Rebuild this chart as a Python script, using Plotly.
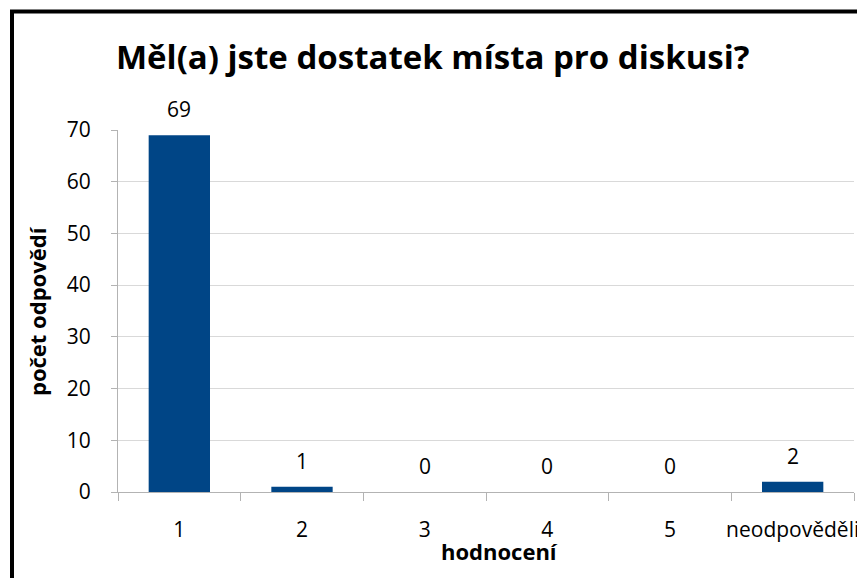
import plotly.graph_objects as go

categories = ["1", "2", "3", "4", "5", "neodpověděli"]
values = [69, 1, 0, 0, 0, 2]
title_text = "Měl(a) jste dostatek místa pro diskusi?"
x_title = "hodnocení"
y_title = "počet odpovědí"

FONT = "Open Sans"
OFF = 8  # default page body margin
W, H = 865, 578
L, T = 118 - OFF, 130 - OFF
R, B = W - (854 - OFF), H - (492 - OFF)
pw, ph = W - L - R, H - T - B


def px_x(x):  # page pixel -> paper fraction
    return (x - OFF - L) / pw


def px_y(y):
    return 1 - (y - OFF - T) / ph


fig = go.Figure()
fig.add_trace(go.Bar(x=categories, y=values, marker=dict(color="#004586", line=dict(width=0)),
                     width=0.5, hoverinfo="x+y"))

for i, v in enumerate(values):
    fig.add_annotation(x=i, y=v, text=str(v), showarrow=False, xanchor="center", yanchor="middle",
                       yshift=26, font=dict(family=FONT, size=21, color="black"))

fig.add_annotation(xref="paper", yref="paper", x=px_x(499), y=px_y(551), text="<b>" + x_title + "</b>",
                   xanchor="center", yanchor="middle",
                   showarrow=False, font=dict(family=FONT, size=22, color="black"))
fig.add_annotation(xref="paper", yref="paper", x=px_x(37), y=px_y(311), text="<b>" + y_title + "</b>",
                   xanchor="center", yanchor="middle",
                   showarrow=False, textangle=-90, font=dict(family=FONT, size=22, color="black"))
fig.add_annotation(xref="paper", yref="paper", x=px_x(433), y=px_y(57), text="<b>" + title_text + "</b>",
                   xanchor="center", yanchor="middle",
                   showarrow=False, font=dict(family=FONT, size=33, color="black"))

fig.add_shape(type="rect", xref="paper", yref="paper", x0=px_x(12), y0=px_y(640), x1=px_x(920), y1=px_y(11.5),
              line=dict(color="black", width=4), fillcolor="rgba(0,0,0,0)", layer="above")

fig.update_layout(
    width=W, height=H, margin=dict(l=L, r=R, t=T, b=B, pad=0, autoexpand=False),
    paper_bgcolor="white", plot_bgcolor="white", showlegend=False,
    font=dict(family=FONT, size=21, color="black"),
)
fig.update_xaxes(type="category", showline=True, linecolor="#b3b3b3", linewidth=1,
                 ticks="outside", tickson="boundaries", ticklen=8, tickcolor="#b3b3b3",
                 showgrid=False, tickangle=0, automargin=False, ticklabelstandoff=19,
                 ticklabeloverflow="allow",
                 tickfont=dict(family=FONT, size=21, color="black"))
fig.update_yaxes(range=[0, 70], dtick=10, showline=True, linecolor="#b3b3b3", linewidth=1,
                 ticks="outside", ticklen=6, tickcolor="#b3b3b3", gridcolor="#d9d9d9",
                 zeroline=False, automargin=False, ticklabelstandoff=16,
                 tickfont=dict(family=FONT, size=21, color="black"))

fig.write_html("out.html")
